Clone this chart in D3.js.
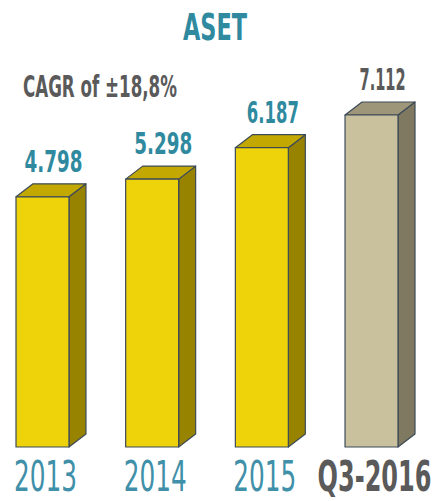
<!DOCTYPE html>
<html>
<head>
<meta charset="utf-8">
<script src="https://cdn.jsdelivr.net/npm/d3@7"></script>
<style>
  body { margin: 0; background: #fff; }
  svg { display: block; }
</style>
</head>
<body>
<svg width="441" height="501"></svg>
<script>
// chart data
const categories = ['2013', '2014', '2015', 'Q3-2016'];
const values = [4.798, 5.298, 6.187, 7.112];
const valueLabels = ['4.798', '5.298', '6.187', '7.112'];
const highlight = [false, false, false, true]; // last bar is the partial year

const svg = d3.select('svg');

const teal = '#2f8aa0';
const grey = '#5a5a5a';
const font = 'DejaVu Sans Condensed, DejaVu Sans';

// 3D depth of the boxes
const dx = 17, dy = 13;

const x = d3.scaleBand().domain(categories).range([16, 398]).paddingInner(0.517);
// the picture's bars don't start from zero, so the base is below 0
const y = d3.scaleLinear().domain([-2.28, 7.112]).range([447, 115]);

// rough width for the narrow display font (the "1" is slim)
function textWidth(s, digit, one, dot) {
  let w = 0;
  for (const c of s) {
    if (c === '1') w += one;
    else if (c === '.' || c === ',') w += dot;
    else w += digit;
  }
  return w;
}

// draw a text and squeeze it horizontally to a given width
// (the original uses a very narrow font we don't have)
function narrowText(cx, cy, str, size, weight, fill, width, anchor) {
  const g = svg.append('g');
  const t = g.append('text')
    .attr('font-family', font)
    .attr('font-weight', weight)
    .attr('font-size', size)
    .attr('fill', fill)
    .attr('text-anchor', anchor || 'middle')
    .text(str);
  const natural = t.node().getComputedTextLength();
  g.attr('transform', `translate(${cx},${cy}) scale(${width / natural},1)`);
  return t;
}

const colours = {
  normal: { front: '#efd30a', top: '#c2a800', side: '#978300' },
  last: { front: '#c9c09e', top: '#9d9678', side: '#7e7960' }
};

const bars = svg.append('g');

categories.forEach((c, i) => {
  const col = highlight[i] ? colours.last : colours.normal;
  const x0 = x(c), x1 = x0 + x.bandwidth();
  const yt = y(values[i]), yb = y.range()[0];
  const g = bars.append('g')
    .attr('stroke', '#3c4a58')
    .attr('stroke-width', 1.2)
    .attr('stroke-linejoin', 'round');

  // side
  g.append('path')
    .attr('d', `M${x1},${yt}L${x1 + dx},${yt - dy}L${x1 + dx},${yb - dy}L${x1},${yb}Z`)
    .attr('fill', col.side);
  // top
  g.append('path')
    .attr('d', `M${x0},${yt}L${x0 + dx},${yt - dy}L${x1 + dx},${yt - dy}L${x1},${yt}Z`)
    .attr('fill', col.top);
  // front
  g.append('rect')
    .attr('x', x0).attr('y', yt)
    .attr('width', x.bandwidth()).attr('height', yb - yt)
    .attr('fill', col.front);

  // value on top
  narrowText(x0 + x.bandwidth() / 2 + 11, yt - dy - 12, valueLabels[i], 31, 'bold',
    highlight[i] ? grey : teal, textWidth(valueLabels[i], 13, 7, 6));

  // category under the bar
  narrowText(x0 + x.bandwidth() / 2 + 3, 491, c, 42,
    highlight[i] ? 'bold' : 'normal', highlight[i] ? grey : '#3f90a8',
    highlight[i] ? 114 : 63);
});

// title
narrowText(215, 40, 'ASET', 38, 'bold', teal, 64);

// growth note
narrowText(23, 97, 'CAGR of ±18,8%', 30, 'bold', grey, 154, 'start');
</script>
</body>
</html>
